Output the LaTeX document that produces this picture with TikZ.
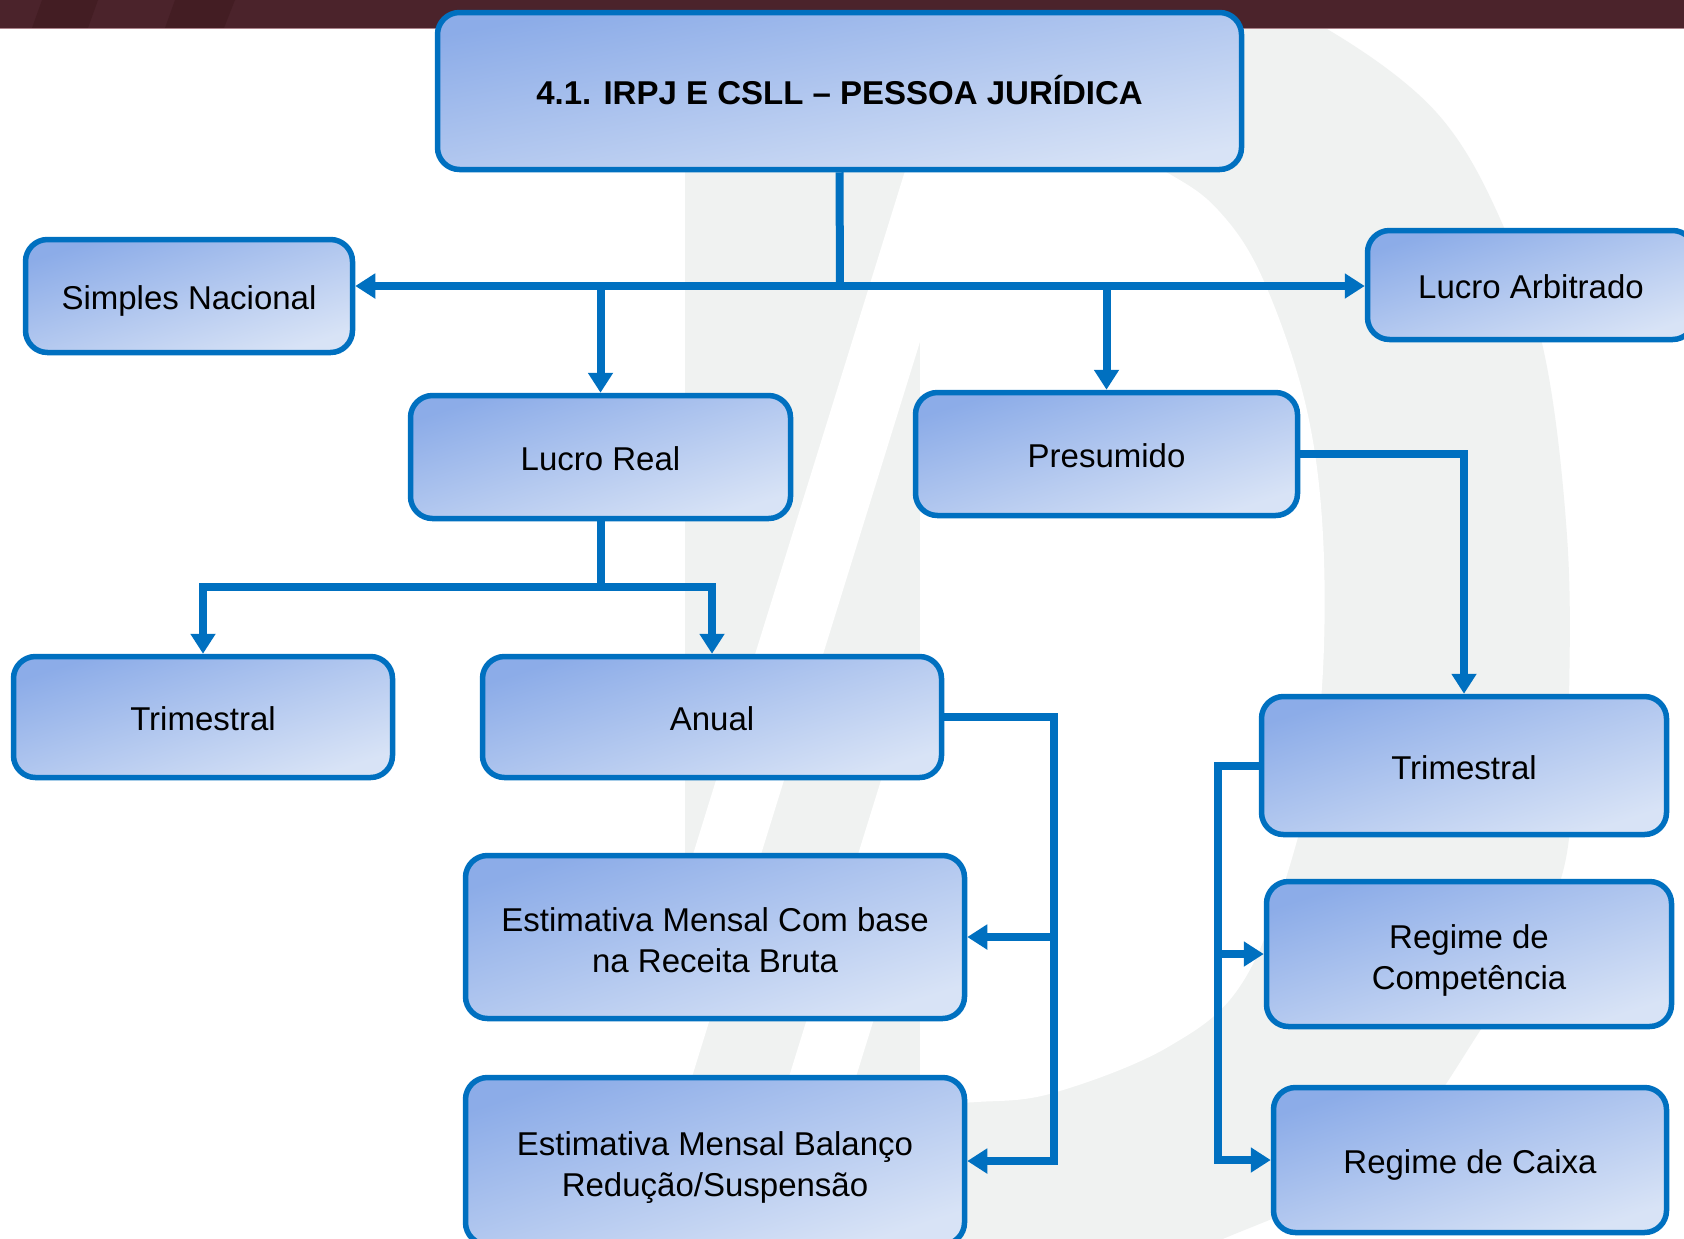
\documentclass[tikz,border=0pt]{standalone}
\usepackage{fontspec}
\setmainfont{Liberation Sans}
\usetikzlibrary{arrows.meta}
\definecolor{bdr}{RGB}{0,112,192}
\definecolor{gtl}{RGB}{140,172,232}
\definecolor{gbr}{RGB}{216,227,246}
\definecolor{wm}{RGB}{240,242,241}
\definecolor{barc}{RGB}{75,35,43}
\definecolor{stripec}{RGB}{67,29,35}
\definecolor{barline}{RGB}{170,130,138}
\newcommand{\lift}{\rule{0pt}{14.5pt}}
\begin{document}
\begin{tikzpicture}[x=0.5pt,y=-0.5pt,
  box/.style={draw=bdr, line width=2.75pt, rounded corners=11pt, top color=gtl, bottom color=gbr, shading angle=18, font=\fontsize{16.5}{20.5}\selectfont, align=center, inner sep=0pt, text depth=0pt, execute at begin node={\rule{0pt}{13.9pt}}},
  conn/.style={draw=bdr, line width=4pt},
  arr/.style={conn, -{Triangle[length=10pt,width=12pt]}},
  arrtwo/.style={conn, {Triangle[length=10pt,width=12pt]}-{Triangle[length=10pt,width=12pt]}}
]
\useasboundingbox (0,0) rectangle (1684,1238);
\fill[white] (0,0) rectangle (1684,1238);
% watermark
\fill[wm] (685,-10) -- plot[smooth,tension=0.6] coordinates {(1230,-10) (1327,29) (1436,112) (1502,223) (1545,357) (1567,536) (1569,700) (1562,875) (1474,1040) (1378,1163) (1225,1238) (1100,1280)} -- (685,1280) -- cycle;
\fill[white] (920,128) -- plot[smooth,tension=0.6] coordinates {(1080,130) (1166,172) (1218,210) (1262,277) (1305,402) (1323,536) (1321,700) (1298,837) (1244,980) (1168,1047) (1053,1093) (977,1102) (920,1103)} -- cycle;
\begin{scope}
\clip (685,0) rectangle (920,1238);
\fill[white] (958,0) -- (1026,0) -- (642,1238) -- (574,1238) -- cycle;
\fill[white] (1123,0) -- (1190,0) -- (806,1238) -- (739,1238) -- cycle;
\end{scope}
% top bar
\fill[barc] (0,0) rectangle (1684,28);
\fill[stripec] (42,0) -- (98,0) -- (88,28) -- (32,28) -- cycle;
\fill[stripec] (175,0) -- (235,0) -- (224,28) -- (165,28) -- cycle;
\draw[barline, line width=0.6pt] (0,28.5) -- (1684,28.5);
% nodes
\node[box, minimum width=402pt, minimum height=78.5pt, text height=13.9pt, font=\bfseries\fontsize{16.5}{20.5}\selectfont, shading angle=11] (root) at (839.5,91) {4.1. IRPJ E CSLL – PESSOA JURÍDICA};
\node[box, minimum width=163.5pt, minimum height=56.5pt] (simples) at (189,296) {Simples Nacional};
\node[box, minimum width=163.5pt, minimum height=54.5pt] (arbitrado) at (1531,285) {Lucro Arbitrado};
\node[box, minimum width=190pt, minimum height=61.5pt] (lreal) at (600.5,457) {Lucro Real};
\node[box, minimum width=191pt, minimum height=61.5pt] (presumido) at (1106.5,454) {Presumido};
\node[box, minimum width=189.5pt, minimum height=60.5pt] (trim1) at (203,717) {Trimestral};
\node[box, minimum width=229.5pt, minimum height=60.5pt] (anual) at (712,717) {Anual};
\node[box, minimum width=249.5pt, minimum height=81.5pt] (est1) at (715,937) {\lift Estimativa Mensal Com base\\na Receita Bruta};
\node[box, minimum width=249.5pt, minimum height=83.5pt] (est2) at (715,1161) {\lift Estimativa Mensal Balanço\\Redução/Suspensão};
\node[box, minimum width=202.5pt, minimum height=69pt] (trim2) at (1464,765.5) {Trimestral};
\node[box, minimum width=202.5pt, minimum height=72.5pt] (compet) at (1469,954) {\lift Regime de\\Competência};
\node[box, minimum width=196.5pt, minimum height=72.5pt] (caixa) at (1470,1160) {Regime de Caixa};
% connectors
\coordinate (j1) at (840,286);
\draw[conn] (root.south) -- (j1);
\draw[arrtwo] (j1 -| simples.east) -- (j1 -| arbitrado.west);
\draw[arr] (lreal.north |- j1) -- (lreal.north);
\draw[arr] (presumido.north |- j1) -- (presumido.north);
\coordinate (j2) at (600.5,587);
\draw[conn] (lreal.south) -- (j2);
\draw[arrtwo] (trim1.north) -- (trim1.north |- j2) -- (anual.north |- j2) -- (anual.north);
\coordinate (abus) at (1054,0);
\draw[arr] (anual.east) -- (anual.east -| abus) -- (est2.east -| abus) -- (est2.east);
\draw[arr] (est1.east -| abus) -- (est1.east);
\draw[arr] (presumido.east) -| (trim2.north);
\coordinate (tbus) at (1218,0);
\draw[arr] (trim2.west) -- (trim2.west -| tbus) -- (caixa.west -| tbus) -- (caixa.west);
\draw[arr] (compet.west -| tbus) -- (compet.west);
\end{tikzpicture}
\end{document}
